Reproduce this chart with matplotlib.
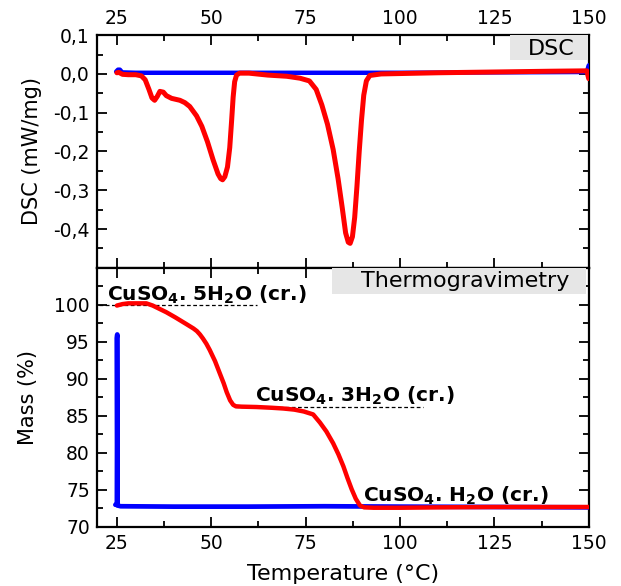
import matplotlib
matplotlib.use("Agg")
import matplotlib.pyplot as plt
from matplotlib.ticker import MultipleLocator, FuncFormatter
from matplotlib.patches import Rectangle

plt.rcParams['font.family'] = ['DejaVu Sans']

# ---- DSC data ----
dsc_red_T = [25.0, 25.5, 26.5, 28, 30, 31.5, 32.5, 33.5, 34.3, 35.0, 35.7, 36.4, 37.3, 38.1,
             39.5, 41.7, 43.0, 44.3, 46.1, 47.5, 49.0, 50.5, 51.8, 52.5, 53.0, 53.6, 54.3,
             54.9, 55.4, 55.8, 56.2, 56.7, 57.5, 60, 65, 70, 73.5, 76, 77.8, 79.3, 80.8,
             82.3, 83.6, 84.7, 85.6, 86.3, 86.8, 87.4, 88.0, 88.6, 89.2, 89.8, 90.4, 91.1,
             92.0, 95, 100, 110, 125, 140, 149.5, 150.0]
dsc_red_v = [0.003, 0.004, -0.001, -0.002, -0.002, -0.005, -0.015, -0.04, -0.062, -0.068,
             -0.058, -0.045, -0.047, -0.056, -0.063, -0.068, -0.074, -0.084, -0.108, -0.135,
             -0.175, -0.222, -0.258, -0.27, -0.273, -0.265, -0.24, -0.19, -0.12, -0.06,
             -0.02, -0.003, 0.002, 0.002, -0.003, -0.006, -0.011, -0.018, -0.04, -0.08,
             -0.13, -0.195, -0.27, -0.345, -0.41, -0.434, -0.437, -0.42, -0.37, -0.29,
             -0.2, -0.12, -0.055, -0.018, -0.004, 0.0, 0.001, 0.003, 0.005, 0.007, 0.008, -0.012]
dsc_blue_T = [24.8, 25.3, 25.8, 26.4, 30, 50, 75, 100, 125, 149.5, 150.0]
dsc_blue_v = [0.006, 0.011, 0.011, 0.004, 0.003, 0.003, 0.003, 0.003, 0.004, 0.005, 0.022]

# ---- TG data ----
tg_red_T = [25.0, 26.5, 28, 30, 32.8, 34.5, 36.5, 38.1, 40.5, 43.4, 45.3, 46.2, 47.0, 47.8,
            48.7, 49.6, 51.0, 52.3, 53.3, 54.1, 55.0, 55.8, 56.5, 58, 62, 66, 69.1, 72, 74.5,
            77.0, 78.8, 80.5, 82.3, 83.7, 85.0, 86.1, 87.2, 88.3, 89.4, 90.5, 93, 100, 110,
            125, 140, 150]
tg_red_m = [99.9, 100.1, 100.2, 100.2, 100.2, 99.9, 99.4, 99.0, 98.3, 97.4, 96.8, 96.45,
            96.0, 95.45, 94.75, 93.9, 92.4, 90.7, 89.4, 88.2, 87.1, 86.5, 86.3, 86.25, 86.2,
            86.1, 86.0, 85.85, 85.6, 85.2, 84.1, 82.9, 81.3, 79.8, 78.2, 76.6, 75.1, 73.8,
            72.9, 72.65, 72.6, 72.6, 72.65, 72.7, 72.7, 72.7]
tg_blue_T = [24.6, 25.0, 25.1, 25.0, 25.2, 26.0, 40, 60, 80, 100, 125, 150]
tg_blue_m = [73.0, 73.0, 96.0, 95.5, 72.9, 72.8, 72.75, 72.75, 72.8, 72.75, 72.7, 72.65]

hydrates = ["CuSO$_\\mathbf{4}$. 5H$_\\mathbf{2}$O (cr.)",
            "CuSO$_\\mathbf{4}$. 3H$_\\mathbf{2}$O (cr.)",
            "CuSO$_\\mathbf{4}$. H$_\\mathbf{2}$O (cr.)"]
hyd_level = [100.0, 86.25, 72.7]
hyd_x_start = [20.3, 56.3, 89.0]
hyd_x_end = [62.0, 106.0, 120.0]
hyd_text_x = [22.4, 61.6, 90.3]
hyd_text_y = [100.55, 86.9, 73.45]

dsc_ticks = [0.1, 0.0, -0.1, -0.2, -0.3, -0.4]
tg_ticks = [70, 75, 80, 85, 90, 95, 100]
T_ticks = [25, 50, 75, 100, 125, 150]

RED = "#ff0000"
BLUE = "#0000ff"
BOXC = "#e6e6e6"

fig = plt.figure(figsize=(6.21, 5.86), dpi=100)
ax1 = fig.add_axes([0.156, 0.543, 0.792, 0.397])
ax2 = fig.add_axes([0.156, 0.1007, 0.792, 0.4423])

ax1.plot(dsc_blue_T, dsc_blue_v, color=BLUE, lw=3.2, solid_capstyle='round', zorder=3)
ax1.plot(dsc_red_T, dsc_red_v, color=RED, lw=3.6, solid_capstyle='round', zorder=4)
ax1.set_xlim(19.7, 150)
ax1.set_ylim(-0.5, 0.1)
ax1.set_yticks(dsc_ticks)
ax1.yaxis.set_minor_locator(MultipleLocator(0.05))
ax1.yaxis.set_major_formatter(FuncFormatter(lambda v, p: ("%.1f" % v).replace(".", ",").replace("-0,0", "0,0")))
ax1.set_ylabel("DSC (mW/mg)", fontsize=15, labelpad=8)
ax1.xaxis.tick_top()
ax1.add_patch(Rectangle((0.839, 0.893), 0.159, 0.107, transform=ax1.transAxes,
                        facecolor=BOXC, edgecolor='none', zorder=5))
ax1.text(0.923, 0.94, "DSC", transform=ax1.transAxes, ha='center', va='center',
         fontsize=16, zorder=6)

ax2.plot(tg_blue_T, tg_blue_m, color=BLUE, lw=3.4, solid_capstyle='round', zorder=3)
ax2.plot(tg_red_T, tg_red_m, color=RED, lw=3.2, solid_capstyle='round', zorder=4)
ax2.set_xlim(19.7, 150)
ax2.set_ylim(70, 105)
ax2.set_yticks(tg_ticks)
ax2.yaxis.set_minor_locator(MultipleLocator(2.5))
ax2.set_ylabel("Mass (%)", fontsize=15, labelpad=12)
ax2.set_xlabel("Temperature (°C)", fontsize=16, labelpad=8)
ax2.add_patch(Rectangle((0.478, 0.8996), 0.516, 0.1004, transform=ax2.transAxes,
                        facecolor=BOXC, edgecolor='none', zorder=5))
ax2.text(0.748, 0.948, "Thermogravimetry", transform=ax2.transAxes, ha='center',
         va='center', fontsize=16, zorder=6)

for i in range(3):
    if i < 2:
        ax2.plot([hyd_x_start[i], hyd_x_end[i]], [hyd_level[i], hyd_level[i]],
                 color='black', lw=0.9, ls=(0, (3, 2)), zorder=2)
    ax2.text(hyd_text_x[i], hyd_text_y[i], hydrates[i], fontsize=14.5,
             fontweight='bold', ha='left', va='baseline', zorder=6)

for ax in (ax1, ax2):
    ax.set_xticks(T_ticks)
    ax.xaxis.set_minor_locator(MultipleLocator(12.5))
    ax.tick_params(which='both', direction='in', top=True, bottom=True, left=True,
                   right=True, width=1.3, labelsize=13.5)
    ax.tick_params(which='major', length=7, pad=5)
    ax.tick_params(which='minor', length=4.5)
    for s in ax.spines.values():
        s.set_linewidth(1.6)
ax1.tick_params(labelbottom=False, labeltop=True)

fig.savefig("out.png", dpi=100)
